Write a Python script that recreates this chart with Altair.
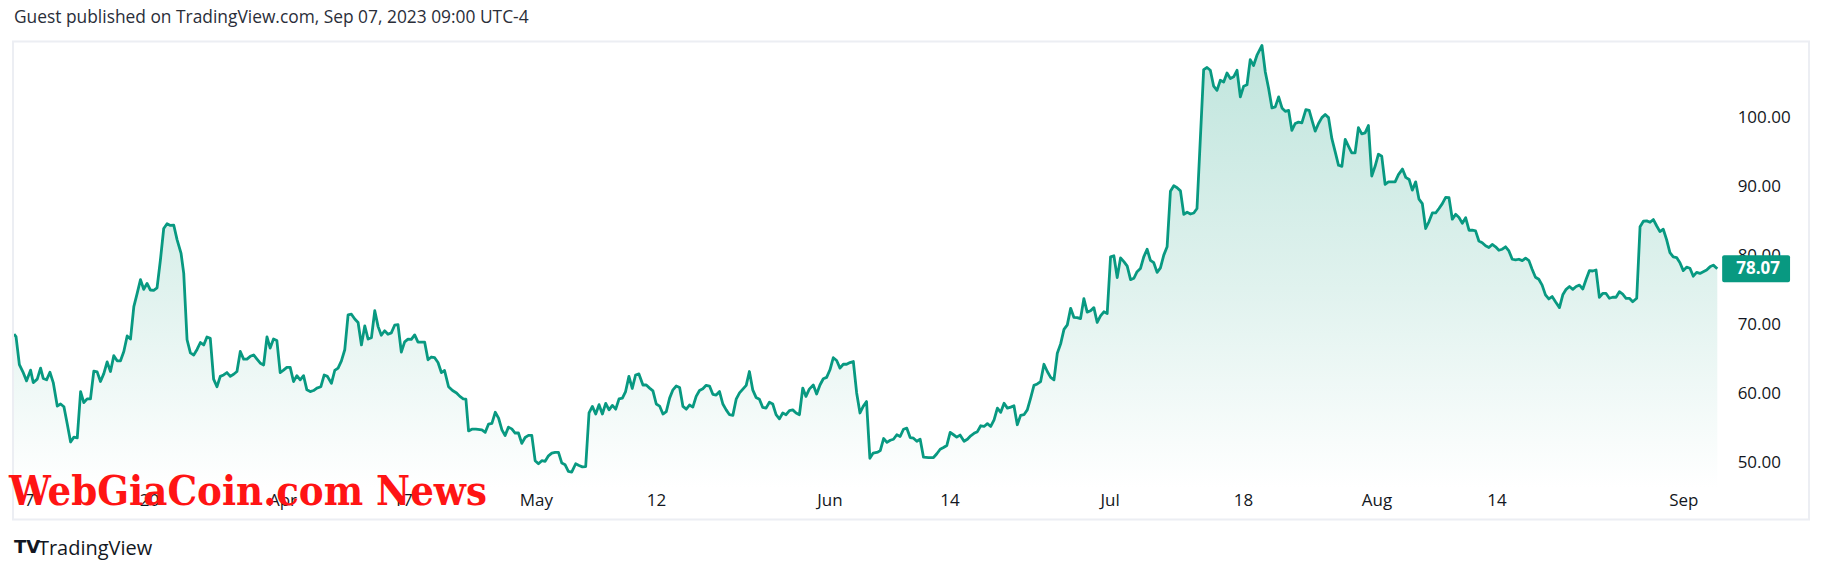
import altair as alt
import pandas as pd

# ---- data (trading-day index since Mar 6, price) ----
seg_mar_apr = [
    (0.18, 68.6), (0.33, 68.25), (0.58, 64.2), (0.88, 63.0), (1.12, 61.85), (1.42, 63.4), (1.62, 61.6),
    (1.92, 62.1), (2.17, 63.7), (2.37, 62.2), (2.62, 62.0), (2.87, 63.1), (3.12, 61.6), (3.42, 58.2),
    (3.67, 58.5), (3.92, 58.1), (4.17, 55.6), (4.42, 53.0), (4.67, 53.7), (4.92, 53.6), (5.17, 60.3),
    (5.41, 58.7), (5.66, 59.25), (5.91, 59.25), (6.16, 63.25), (6.41, 63.15), (6.66, 61.75), (6.91, 62.9),
    (7.16, 64.6), (7.41, 63.2), (7.66, 65.5), (7.91, 64.75), (8.16, 64.75), (8.41, 66.1), (8.66, 68.35),
    (8.91, 67.9), (9.16, 72.6), (9.41, 74.5), (9.66, 76.5), (9.90, 75.1), (10.15, 75.95), (10.40, 75.0),
    (10.65, 74.95), (10.90, 75.3), (11.15, 79.3), (11.40, 83.9), (11.65, 84.6), (11.90, 84.35),
    (12.15, 84.4), (12.40, 82.3), (12.70, 80.3), (12.90, 77.4), (13.15, 67.8), (13.40, 65.9),
    (13.65, 65.6), (13.90, 66.4), (14.15, 67.4), (14.40, 67.05), (14.64, 68.2), (14.89, 68.0),
    (15.14, 62.1), (15.39, 61.0), (15.64, 62.5), (15.89, 62.7), (16.14, 63.05), (16.39, 62.5),
    (16.64, 62.8), (16.89, 63.2), (17.14, 66.1), (17.39, 65.0), (17.64, 65.0), (17.89, 65.4),
    (18.14, 65.6), (18.39, 65.0), (18.64, 64.4), (18.89, 64.15), (19.14, 68.2), (19.38, 66.6),
    (19.63, 67.9), (19.88, 67.7), (20.13, 63.05), (20.38, 63.4), (20.63, 63.8), (20.88, 63.8),
    (21.13, 61.75), (21.38, 62.6), (21.63, 62.0), (21.88, 62.6), (22.13, 60.55), (22.38, 60.3),
    (22.63, 60.45), (22.88, 60.8), (23.18, 61.0), (23.43, 62.7), (23.67, 62.5), (23.97, 61.5),
    (24.22, 63.35), (24.47, 63.7), (24.72, 64.75), (24.97, 66.35), (25.22, 71.4), (25.47, 71.5),
    (25.72, 70.8), (25.97, 70.3), (26.22, 67.05), (26.47, 69.8), (26.72, 67.9), (26.97, 68.1),
    (27.22, 72.0), (27.47, 69.7), (27.71, 68.45), (27.96, 69.1), (28.21, 68.6), (28.46, 68.8),
    (28.71, 69.9), (28.96, 70.0), (29.21, 66.0), (29.46, 67.5), (29.71, 67.9), (29.96, 67.85),
    (30.21, 68.5), (30.46, 67.45), (30.71, 67.45), (30.96, 67.45), (31.21, 64.9), (31.46, 65.3),
    (31.71, 65.2), (31.96, 64.5), (32.21, 63.05), (32.45, 63.35), (32.75, 61.0),
]
seg_may_jun = [
    (33.05, 60.45), (33.35, 60.1), (33.60, 59.6), (33.85, 59.25), (34.05, 59.2), (34.25, 54.6),
    (34.50, 54.85), (34.80, 54.85), (35.25, 54.75), (35.50, 54.4), (35.75, 55.6), (36.00, 55.7),
    (36.25, 57.3), (36.50, 56.45), (36.75, 54.75), (36.99, 53.95), (37.24, 55.15), (37.49, 54.9),
    (37.74, 54.3), (37.99, 54.3), (38.24, 52.8), (38.49, 53.65), (38.74, 53.95), (38.99, 53.95),
    (39.24, 50.3), (39.49, 49.85), (39.74, 50.3), (39.99, 50.2), (40.24, 51.0), (40.49, 51.4),
    (40.74, 51.5), (40.99, 51.5), (41.24, 49.95), (41.49, 49.7), (41.73, 48.75), (41.98, 48.65),
    (42.28, 49.85), (42.53, 49.6), (42.78, 49.4), (43.03, 49.45), (43.28, 57.2), (43.53, 58.15),
    (43.78, 57.05), (44.03, 58.4), (44.28, 57.05), (44.53, 58.6), (44.78, 57.65), (45.03, 58.3),
    (45.28, 57.75), (45.53, 59.25), (45.78, 59.35), (46.02, 60.3), (46.27, 62.5), (46.52, 60.75),
    (46.77, 62.7), (47.02, 62.85), (47.32, 61.25), (47.57, 61.25), (47.82, 60.8), (48.07, 60.4),
    (48.32, 58.5), (48.57, 58.2), (48.82, 57.05), (49.07, 57.4), (49.32, 59.35), (49.57, 60.55),
    (49.82, 61.1), (50.07, 60.9), (50.32, 58.15), (50.57, 57.75), (50.81, 58.35), (51.06, 58.05),
    (51.31, 59.6), (51.56, 60.45), (51.81, 60.7), (52.06, 61.2), (52.31, 61.1), (52.56, 59.9),
    (52.81, 59.8), (53.06, 60.3), (53.31, 58.5), (53.56, 57.65), (53.81, 56.95), (54.06, 56.85),
    (54.31, 59.2), (54.56, 60.1), (54.81, 60.65), (55.06, 61.2), (55.30, 63.2), (55.55, 60.55),
    (55.80, 59.45), (56.05, 59.2), (56.30, 58.0), (56.55, 57.9), (56.80, 58.75), (57.05, 58.5),
    (57.30, 56.95), (57.55, 56.35), (57.80, 57.2), (58.05, 56.95), (58.30, 57.55), (58.55, 57.65),
    (58.80, 57.2), (59.05, 56.95), (59.30, 60.8), (59.54, 59.6), (59.79, 60.65), (60.09, 61.25),
    (60.34, 59.95), (60.59, 61.25), (60.84, 62.15), (61.09, 62.35), (61.34, 63.45), (61.59, 65.2),
    (61.84, 64.8), (62.09, 63.7), (62.34, 64.25), (62.59, 64.25), (62.84, 64.5), (63.09, 64.65),
    (63.34, 60.1), (63.59, 57.2), (63.83, 58.15), (64.08, 58.85), (64.33, 50.65), (64.58, 51.4),
    (64.93, 51.55),
]
seg_jun_jul = [
    (65.11, 51.75), (65.36, 53.5), (65.61, 52.95), (65.86, 53.25), (66.10, 53.4), (66.35, 54.05),
    (66.60, 53.8), (66.85, 54.85), (67.10, 55.0), (67.35, 53.65), (67.60, 53.55), (67.85, 53.1),
    (68.10, 53.4), (68.35, 50.8), (68.72, 50.75), (69.10, 50.75), (69.35, 51.3), (69.60, 51.95),
    (69.85, 52.2), (70.10, 52.5), (70.35, 54.4), (70.60, 54.05), (70.84, 53.7), (71.09, 54.0),
    (71.39, 53.1), (71.64, 53.4), (71.89, 53.9), (72.14, 54.25), (72.39, 54.5), (72.64, 55.35),
    (72.89, 55.25), (73.14, 55.65), (73.39, 55.25), (73.64, 56.2), (73.89, 57.9), (74.14, 57.3),
    (74.39, 58.6), (74.64, 57.9), (74.89, 58.05), (75.13, 58.25), (75.38, 55.5), (75.63, 56.85),
    (75.88, 56.95), (76.13, 57.65), (76.38, 59.35), (76.63, 61.2), (76.88, 61.4), (77.13, 61.75),
    (77.38, 64.25), (77.63, 63.2), (77.88, 62.35), (78.13, 62.0), (78.38, 65.85), (78.63, 67.2),
    (78.88, 69.3), (79.13, 69.95), (79.38, 72.35), (79.62, 71.05), (79.87, 71.0), (80.12, 70.85),
    (80.37, 73.75), (80.62, 71.8), (80.87, 72.0), (81.12, 72.45), (81.37, 70.3), (81.62, 71.25),
    (81.87, 71.85), (82.12, 71.6), (82.37, 79.8), (82.62, 79.95), (82.87, 76.8), (83.12, 79.65),
    (83.37, 79.1), (83.62, 78.45), (83.87, 76.5), (84.12, 76.7), (84.36, 77.65), (84.61, 78.1),
    (84.86, 79.8), (85.11, 80.9), (85.36, 79.3), (85.61, 78.95), (85.86, 77.55), (86.11, 78.2),
    (86.36, 80.05), (86.61, 81.25), (86.86, 89.3), (87.11, 90.1), (87.36, 89.8), (87.61, 89.35),
    (87.86, 85.95), (88.11, 86.25), (88.36, 86.0), (88.61, 86.15), (88.85, 86.8), (89.35, 106.9),
    (89.60, 107.2), (89.85, 106.8), (90.10, 104.5), (90.35, 103.9), (90.60, 105.35), (90.85, 105.1),
    (91.10, 106.4), (91.35, 105.6), (91.60, 105.85), (91.85, 106.8), (92.10, 102.95), (92.35, 104.5),
    (92.60, 104.7), (92.84, 108.35), (93.09, 107.5), (93.34, 108.95), (93.72, 110.4), (93.97, 106.55),
    (94.22, 104.15), (94.47, 101.35), (94.72, 101.5), (94.97, 102.95), (95.22, 101.35), (95.47, 100.85),
    (95.72, 101.0), (95.96, 98.1), (96.21, 99.1), (96.46, 99.3),
]
seg_aug_sep = [
    (96.71, 99.2), (97.01, 101.1), (97.26, 101.0), (97.51, 99.3), (97.71, 98.0), (97.96, 99.1),
    (98.21, 99.95), (98.46, 100.4), (98.71, 99.95), (98.96, 96.9), (99.21, 94.99), (99.46, 93.05),
    (99.71, 92.9), (99.96, 96.8), (100.21, 95.8), (100.45, 94.85), (100.70, 94.85), (100.95, 98.5),
    (101.20, 97.6), (101.45, 97.75), (101.70, 98.8), (101.95, 91.5), (102.20, 92.9), (102.45, 94.65),
    (102.70, 94.35), (102.95, 90.3), (103.20, 90.65), (103.45, 90.65), (103.70, 90.65), (103.95, 91.7),
    (104.25, 92.5), (104.50, 91.3), (104.75, 91.0), (104.99, 89.45), (105.24, 90.65), (105.49, 88.15),
    (105.74, 87.5), (105.99, 83.9), (106.24, 84.9), (106.49, 86.15), (106.74, 86.15), (106.99, 86.8),
    (107.24, 87.5), (107.49, 88.4), (107.74, 88.35), (107.99, 85.25), (108.24, 85.95), (108.49, 85.5),
    (108.74, 84.65), (108.99, 85.45), (109.24, 83.65), (109.49, 83.65), (109.73, 83.55), (109.98, 82.1),
    (110.23, 81.85), (110.48, 81.4), (110.73, 81.15), (110.98, 81.6), (111.23, 81.25), (111.48, 80.75),
    (111.73, 80.9), (111.98, 81.25), (112.23, 80.65), (112.48, 79.45), (112.73, 79.35), (112.98, 79.45),
    (113.23, 79.25), (113.48, 79.6), (113.73, 79.25), (113.97, 78.0), (114.22, 76.85), (114.47, 76.55),
    (114.72, 75.7), (114.97, 74.3), (115.22, 73.7), (115.47, 74.05), (115.72, 73.3), (116.02, 72.45),
    (116.27, 74.3), (116.52, 75.1), (116.77, 75.5), (117.02, 75.1), (117.27, 75.5), (117.52, 75.7),
    (117.77, 75.15), (118.02, 76.55), (118.26, 77.8), (118.51, 77.75), (118.76, 77.9), (119.01, 73.95),
    (119.26, 74.5), (119.51, 74.5), (119.76, 73.8), (120.01, 73.95), (120.26, 73.95), (120.51, 74.75),
    (120.76, 74.4), (121.01, 73.8), (121.26, 73.8), (121.51, 73.3), (121.81, 73.8), (122.06, 84.15),
    (122.31, 84.95), (122.56, 85.0), (122.81, 84.8), (123.06, 85.2), (123.30, 84.3), (123.55, 83.45),
    (123.80, 83.8), (124.05, 82.3), (124.30, 80.4), (124.55, 79.8), (124.80, 79.7), (125.05, 78.95),
    (125.30, 77.8), (125.55, 78.3), (125.80, 78.15), (126.05, 77.0), (126.30, 77.55), (126.55, 77.4),
    (126.80, 77.65), (127.05, 77.9), (127.30, 78.35), (127.55, 78.6), (127.85, 78.07),
]

tick_days = [1, 10, 20, 29, 39, 48, 61, 70, 82, 92, 102, 111, 125]
tick_text = ["7", "20", "Apr", "17", "May", "12", "Jun", "14", "Jul", "18", "Aug", "14", "Sep"]
price_ticks = [50, 60, 70, 80, 90, 100]
last_price = 78.07
price_floor, price_ceiling = 46.39, 110.98
header = "Guest published on TradingView.com, Sep 07, 2023 09:00 UTC-4"
watermark = "WebGiaCoin.com News"
brand = "TradingView"

GREEN = "#089981"
TEXT = "#131722"
FONT = "Open Sans"

df = pd.DataFrame(seg_mar_apr + seg_may_jun + seg_jun_jul + seg_aug_sep, columns=["day", "close"])
df["floor"] = price_floor

W, H = 1708, 447
x_scale = alt.Scale(domain=[0.177, 127.99], nice=False, zero=False)
y_scale = alt.Scale(domain=[price_floor, price_ceiling], nice=False, zero=False)

label_expr = "[" + ",".join("'%s'" % t for t in tick_text) + "][indexof([" + \
    ",".join(str(d) for d in tick_days) + "], datum.value)]"

x_axis = alt.Axis(
    values=tick_days, labelExpr=label_expr, title=None, grid=False, domain=False, ticks=False,
    labelPadding=13, labelBaseline="middle", labelFontSize=17, labelFont=FONT, labelColor=TEXT,
    labelAngle=0, labelFlush=False, labelOverlap=False, labelBound=False, labelOffset=4)
y_axis = alt.Axis(
    orient="right", values=price_ticks, format=".2f", title=None, grid=False, domain=False,
    ticks=False, labelPadding=18, labelAlign="left", labelBaseline="middle", labelFontSize=17,
    labelFont=FONT, labelColor=TEXT, labelFlush=False, labelOverlap=False)

x_enc = alt.X("day:Q", scale=x_scale, axis=x_axis)
y_enc = alt.Y("close:Q", scale=y_scale, axis=y_axis)

area = alt.Chart(df).mark_area(
    clip=True,
    color=alt.Gradient(gradient="linear",
                       stops=[alt.GradientStop(color="#c0e5dd", offset=0),
                              alt.GradientStop(color="#e0f2ee", offset=0.55),
                              alt.GradientStop(color="#ffffff", offset=1)],
                       x1=1, x2=1, y1=0, y2=1),
).encode(x=x_enc, y=y_enc, y2="floor:Q")

line = alt.Chart(df).mark_line(clip=True, color=GREEN, strokeWidth=2.8, strokeJoin="round").encode(
    x=x_enc, y=y_enc)

one = pd.DataFrame({"close": [last_price], "label": ["%.2f" % last_price]})

frame = alt.Chart(one).mark_rect(filled=False, stroke="#eceef3", strokeWidth=2, clip=False).encode(
    x=alt.value(-1), x2=alt.value(1798), y=alt.value(0), y2=alt.value(479))

price_box = alt.Chart(one).mark_rect(color=GREEN, cornerRadius=2, clip=False,
                                     yOffset=-13.5, y2Offset=13.5).encode(
    x=alt.value(1711), x2=alt.value(1779), y=y_enc, y2="close:Q")

price_text = alt.Chart(one).mark_text(color="white", fontWeight="bold", fontSize=17, font=FONT,
                                      align="center", baseline="middle", clip=False).encode(
    x=alt.value(1747), y=y_enc, text="label:N")

head = alt.Chart(one).mark_text(text=header, align="left", baseline="alphabetic", fontSize=17.4,
                                font=FONT, color="#2a2e39").encode(x=alt.value(0), y=alt.value(-18))

wm = alt.Chart(one).mark_text(text=watermark, align="left", baseline="alphabetic", fontSize=41.5,
                              font="DejaVu Serif Condensed", fontWeight="bold",
                              color="#ff1414").encode(x=alt.value(-5), y=alt.value(464))

logo = alt.Chart(one).mark_text(text="TV", align="left", baseline="middle", fontSize=18,
                                font="DejaVu Sans", fontWeight="bold",
                                color="#131722").encode(x=alt.value(0), y=alt.value(507))
brand_txt = alt.Chart(one).mark_text(text=brand, align="left", baseline="middle", fontSize=20,
                                     font=FONT, color="#131722").encode(x=alt.value(24), y=alt.value(508))

chart = alt.layer(area, line, frame, price_box, price_text, head, wm, logo, brand_txt).properties(
    width=W, height=H,
    padding={"left": 6, "top": 33, "right": 100, "bottom": 80},
    autosize=alt.AutoSizeParams(type="none"),
    background="white",
).configure_view(stroke=None)

chart.save("out.html", embed_options={"renderer": "svg", "actions": False})
